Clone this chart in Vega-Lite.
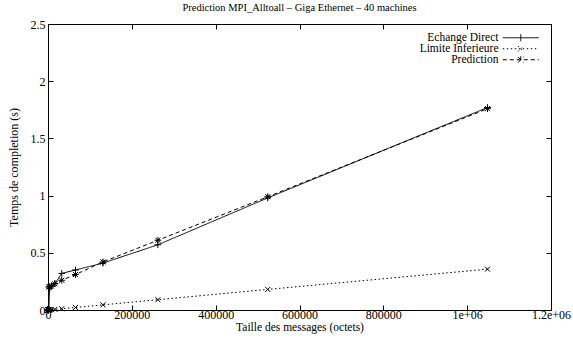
{
  "$schema": "https://vega.github.io/schema/vega-lite/v6.json",
  "width": 503,
  "height": 286,
  "autosize": {"type": "none"},
  "padding": {"left": 48, "top": 24, "right": 22, "bottom": 29},
  "background": "white",
  "title": {"text": "Prediction MPI_Alltoall – Giga Ethernet – 40 machines", "font": "Liberation Serif", "fontSize": 10.5, "fontWeight": "normal", "color": "black", "offset": 5},
  "config": {
    "view": {"stroke": "black", "strokeWidth": 1},
    "axis": {"labelFont": "Liberation Serif", "titleFont": "Liberation Serif", "labelFontSize": 12, "titleFontSize": 12, "titleFontWeight": "normal", "labelColor": "black", "titleColor": "black", "domain": false, "grid": false, "tickColor": "black", "tickSize": -5},
    "legend": {"labelFont": "Liberation Serif", "labelFontSize": 11.5, "labelColor": "black", "gridAlign": "none"}
  },
  "data": {"values": [
    {"size": 1, "time": 0.002, "series": "Echange Direct"},
    {"size": 4, "time": 0.002, "series": "Echange Direct"},
    {"size": 16, "time": 0.002, "series": "Echange Direct"},
    {"size": 64, "time": 0.003, "series": "Echange Direct"},
    {"size": 256, "time": 0.004, "series": "Echange Direct"},
    {"size": 1024, "time": 0.005, "series": "Echange Direct"},
    {"size": 2048, "time": 0.006, "series": "Echange Direct"},
    {"size": 4096, "time": 0.19, "series": "Echange Direct"},
    {"size": 8192, "time": 0.21, "series": "Echange Direct"},
    {"size": 16384, "time": 0.23, "series": "Echange Direct"},
    {"size": 32768, "time": 0.32, "series": "Echange Direct"},
    {"size": 65536, "time": 0.35, "series": "Echange Direct"},
    {"size": 131072, "time": 0.41, "series": "Echange Direct"},
    {"size": 262144, "time": 0.57, "series": "Echange Direct"},
    {"size": 524288, "time": 0.98, "series": "Echange Direct"},
    {"size": 1048576, "time": 1.77, "series": "Echange Direct"},
    {"size": 1, "time": 0.0001, "series": "Limite Inferieure"},
    {"size": 4, "time": 0.0001, "series": "Limite Inferieure"},
    {"size": 16, "time": 0.0001, "series": "Limite Inferieure"},
    {"size": 64, "time": 0.0001, "series": "Limite Inferieure"},
    {"size": 256, "time": 0.0001, "series": "Limite Inferieure"},
    {"size": 1024, "time": 0.0004, "series": "Limite Inferieure"},
    {"size": 2048, "time": 0.0007, "series": "Limite Inferieure"},
    {"size": 4096, "time": 0.0014, "series": "Limite Inferieure"},
    {"size": 8192, "time": 0.0028, "series": "Limite Inferieure"},
    {"size": 16384, "time": 0.0055, "series": "Limite Inferieure"},
    {"size": 32768, "time": 0.011, "series": "Limite Inferieure"},
    {"size": 65536, "time": 0.022, "series": "Limite Inferieure"},
    {"size": 131072, "time": 0.045, "series": "Limite Inferieure"},
    {"size": 262144, "time": 0.09, "series": "Limite Inferieure"},
    {"size": 524288, "time": 0.18, "series": "Limite Inferieure"},
    {"size": 1048576, "time": 0.357, "series": "Limite Inferieure"},
    {"size": 1, "time": 0.001, "series": "Prediction"},
    {"size": 4, "time": 0.001, "series": "Prediction"},
    {"size": 16, "time": 0.001, "series": "Prediction"},
    {"size": 64, "time": 0.001, "series": "Prediction"},
    {"size": 256, "time": 0.001, "series": "Prediction"},
    {"size": 1024, "time": 0.002, "series": "Prediction"},
    {"size": 2048, "time": 0.2, "series": "Prediction"},
    {"size": 4096, "time": 0.205, "series": "Prediction"},
    {"size": 8192, "time": 0.21, "series": "Prediction"},
    {"size": 16384, "time": 0.23, "series": "Prediction"},
    {"size": 32768, "time": 0.26, "series": "Prediction"},
    {"size": 65536, "time": 0.31, "series": "Prediction"},
    {"size": 131072, "time": 0.42, "series": "Prediction"},
    {"size": 262144, "time": 0.61, "series": "Prediction"},
    {"size": 524288, "time": 0.99, "series": "Prediction"},
    {"size": 1048576, "time": 1.76, "series": "Prediction"}
  ]},
  "resolve": {"axis": {"x": "independent", "y": "independent"}},
  "layer": [
    {
      "mark": {"type": "line", "color": "black", "strokeWidth": 1},
      "encoding": {
        "x": {"field": "size", "type": "quantitative", "scale": {"domain": [0, 1200000], "nice": false},
              "axis": {"orient": "bottom", "values": [0, 200000, 400000, 600000, 800000, 1000000, 1200000], "labelExpr": "datum.value == 1000000 ? '1e+06' : datum.value == 1200000 ? '1.2e+06' : format(datum.value, 'd')", "title": "Taille des messages (octets)", "titleFontSize": 11.5, "labelPadding": 4, "titlePadding": 1, "labelFlush": false, "labelOverlap": false}},
        "y": {"field": "time", "type": "quantitative", "scale": {"domain": [0, 2.5], "nice": false},
              "axis": {"orient": "left", "values": [0, 0.5, 1, 1.5, 2, 2.5], "labelExpr": "datum.value + ''", "title": "Temps de completion (s)", "labelPadding": 8, "titlePadding": 10, "labelFlush": false, "labelOverlap": false}},
        "strokeDash": {"field": "series", "type": "nominal",
          "scale": {"domain": ["Echange Direct", "Limite Inferieure", "Prediction"], "range": [[1, 0], [1.5, 2.5], [4, 3]]},
          "legend": {"title": null, "orient": "none", "legendX": 467, "legendY": 8, "padding": 0, "symbolSize": 100, "symbolStrokeColor": "black", "symbolStrokeWidth": 1, "labelAlign": "right", "labelOffset": -28, "rowPadding": -2, "gridAlign": "none", "symbolType": "stroke",
            "encode": {"symbols": {"update": {"shape": {"signal": "datum.value === 'Echange Direct' ? 'M-3.6,0H3.6M0,-0.7V0.7' : datum.value === 'Limite Inferieure' ? 'M-3.6,0H3.6M-0.55,-0.55L0.55,0.55M-0.55,0.55L0.55,-0.55' : 'M-3.6,0H3.6M0,-0.7V0.7M-0.55,-0.55L0.55,0.55M-0.55,0.55L0.55,-0.55'"}}}}}
        }
      }
    },
    {
      "transform": [{"filter": "datum.series === 'Echange Direct'"}],
      "mark": {"type": "point", "filled": false, "color": "black", "strokeWidth": 1, "size": 45, "opacity": 1, "shape": "M-1,0L1,0M0,-1L0,1"},
      "encoding": {
        "x": {"field": "size", "type": "quantitative", "scale": {"domain": [0, 1200000], "nice": false},
              "axis": {"orient": "top", "values": [0, 200000, 400000, 600000, 800000, 1000000, 1200000], "labels": false, "title": null}},
        "y": {"field": "time", "type": "quantitative", "scale": {"domain": [0, 2.5], "nice": false},
              "axis": {"orient": "right", "values": [0, 0.5, 1, 1.5, 2, 2.5], "labels": false, "title": null}}
      }
    },
    {
      "transform": [{"filter": "datum.series === 'Limite Inferieure'"}],
      "mark": {"type": "point", "filled": false, "color": "black", "strokeWidth": 1, "size": 45, "opacity": 1, "shape": "M-0.75,-0.75L0.75,0.75M-0.75,0.75L0.75,-0.75"},
      "encoding": {
        "x": {"field": "size", "type": "quantitative", "scale": {"domain": [0, 1200000], "nice": false}, "axis": null},
        "y": {"field": "time", "type": "quantitative", "scale": {"domain": [0, 2.5], "nice": false}, "axis": null}
      }
    },
    {
      "transform": [{"filter": "datum.series === 'Prediction'"}],
      "mark": {"type": "point", "filled": false, "color": "black", "strokeWidth": 1, "size": 45, "opacity": 1, "shape": "M-1,0L1,0M0,-1L0,1M-0.75,-0.75L0.75,0.75M-0.75,0.75L0.75,-0.75"},
      "encoding": {
        "x": {"field": "size", "type": "quantitative", "scale": {"domain": [0, 1200000], "nice": false}, "axis": null},
        "y": {"field": "time", "type": "quantitative", "scale": {"domain": [0, 2.5], "nice": false}, "axis": null}
      }
    }
  ]
}
